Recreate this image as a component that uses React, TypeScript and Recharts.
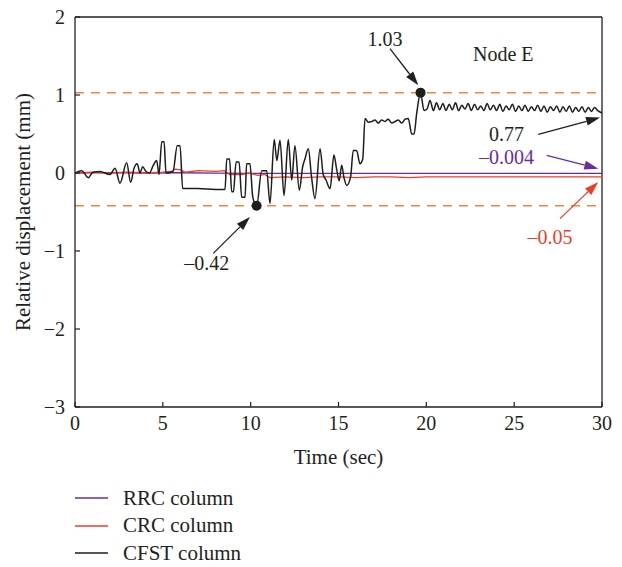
import { Line, LineChart, ReferenceDot, ReferenceLine, XAxis, YAxis } from 'recharts';

// Serif look of the original figure; Liberation Serif has Times metrics.
const FONT = '"Liberation Serif", "Times New Roman", serif';
const INK = '#231f20';
const RRC_COLOR = '#6a2c9e';
const CRC_COLOR = '#ee3e26';
const CFST_COLOR = '#1d1d1b';
const BOUND_COLOR = '#f5882c';

const TIME_TICKS = [0, 5, 10, 15, 20, 25, 30];
const DISP_TICKS = [-3, -2, -1, 0, 1, 2];

// RRC column, nearly flat at -0.004 mm
const rrcTime = [0, 2, 4, 6, 8, 10, 12, 15, 20, 25, 30];
const rrcValue = [0, 0.005, 0, 0.003, -0.002, -0.005, -0.004, -0.006, -0.004, -0.004, -0.004];

// CRC column, settles at -0.05 mm
const crcTime = [0, 1, 2, 3, 4, 5, 5.5, 5.7, 6.0, 6.3, 7.0, 8.0, 8.5, 8.8, 9.5, 9.9, 10.4, 10.8, 11.1, 12, 13, 14, 15, 16, 17, 18, 19, 20, 22, 24, 26, 28, 30];
const crcValue = [0, 0.01, 0, 0.01, 0, 0.01, 0.02, 0.05, 0.04, 0.01, 0.03, 0.02, 0.03, -0.02, -0.02, 0.0, -0.03, -0.02, -0.06, -0.05, -0.06, -0.05, -0.05, -0.06, -0.05, -0.05, -0.06, -0.05, -0.05, -0.05, -0.05, -0.05, -0.05];

// CFST column
const cfstTime = [
  0, 0.38, 0.76, 1.02, 1.42, 1.99, 2.28, 2.56, 2.94, 3.17, 3.36, 3.54, 3.7, 3.85, 4.04, 4.23, 4.46, 4.65, 4.78, 4.94,
  5.07, 5.18, 5.58, 5.82, 5.98, 6.13, 7.0, 8.0, 8.54, 8.64, 8.8, 8.92, 9.02, 9.17, 9.34, 9.49, 9.68, 9.77, 9.96, 10.12,
  10.34, 10.63, 10.91, 11.1, 11.34, 11.49, 11.67, 11.9, 12.14, 12.34, 12.52, 12.77, 12.96, 13.09, 13.28, 13.47, 13.66,
  13.95, 14.13, 14.29, 14.52, 14.74, 14.9, 15.04, 15.18, 15.31, 15.47, 15.69, 15.84, 16.03, 16.22, 16.38, 16.51, 16.7,
  16.89, 17.08, 17.26, 17.46, 17.65, 17.83, 18.03, 18.22, 18.4, 18.6, 18.79, 18.97, 19.17, 19.3, 19.45, 19.67, 19.87,
  20.04, 20.21, 20.4, 20.58, 20.76, 20.94, 21.12, 21.3, 21.48, 21.66, 21.84, 22.02, 22.2, 22.38, 22.56, 22.74, 22.92,
  23.1, 23.28, 23.46, 23.64, 23.82, 24.0, 24.18, 24.36, 24.54, 24.72, 24.9, 25.08, 25.26, 25.44, 25.62, 25.8, 25.98,
  26.16, 26.34, 26.52, 26.7, 26.88, 27.06, 27.24, 27.42, 27.6, 27.78, 27.96, 28.14, 28.32, 28.5, 28.68, 28.86, 29.04,
  29.22, 29.4, 29.58, 29.76, 30,
];
const cfstValue = [
  0, 0.03, -0.06, 0.01, 0.02, -0.02, 0.06, -0.13, 0.13, -0.12, 0.06, 0.12, 0.0, 0.08, 0.02, 0.0, 0.1, 0.16, -0.02, 0.4,
  0.4, 0.0, 0.02, 0.35, 0.35, -0.2, -0.2, -0.21, -0.21, 0.18, 0.18, -0.24, -0.24, 0.14, 0.14, -0.31, -0.31, 0.12, 0.12,
  -0.31, -0.42, 0.03, 0.03, -0.39, 0.43, 0.16, 0.42, -0.29, 0.43, -0.09, 0.35, -0.22, 0.08, 0.18, 0.31, -0.06, -0.33,
  0.31, -0.02, -0.09, -0.2, 0.23, 0.04, -0.1, 0.1, -0.06, -0.16, -0.05, 0.29, 0.29, 0.12, 0.18, 0.7, 0.65,
  0.66, 0.68, 0.64, 0.68, 0.66, 0.69, 0.64, 0.66, 0.68, 0.64, 0.69, 0.7, 0.5, 0.5, 0.76, 1.03, 0.8,
  0.82, 0.93, 0.8, 0.9, 0.81, 0.89, 0.8, 0.88, 0.81, 0.9, 0.8, 0.87, 0.82, 0.89, 0.8, 0.88, 0.81,
  0.86, 0.8, 0.89, 0.81, 0.87, 0.8, 0.88, 0.79, 0.86, 0.81, 0.88, 0.79, 0.86, 0.8, 0.87, 0.79, 0.85,
  0.8, 0.87, 0.79, 0.86, 0.78, 0.85, 0.8, 0.86, 0.78, 0.85, 0.79, 0.86, 0.78, 0.84, 0.79, 0.85, 0.78,
  0.84, 0.79, 0.84, 0.8, 0.77,
];

// maximum / minimum envelope
const PEAK = { t: 19.67, v: 1.03 };
const TROUGH = { t: 10.34, v: -0.42 };

// text callouts (centre of text, data units)
const noteText = ['1.03', 'Node E', '0.77', '\u20130.004', '\u20130.05', '\u20130.42'];
const noteTime = [17.65, 24.38, 24.57, 24.57, 27.04, 7.5];
const noteValue = [1.72, 1.53, 0.505, 0.205, -0.82, -1.16];
const noteColor = [INK, INK, INK, RRC_COLOR, CRC_COLOR, INK];

// arrows: [tail time, tail value, tip time, tip value]
const arrowSegs = [
  [17.93, 1.595, 19.54, 1.124],
  [26.37, 0.496, 29.89, 0.71],
  [26.85, 0.227, 29.79, 0.056],
  [27.61, -0.585, 29.79, -0.115],
  [7.87, -1.03, 9.96, -0.564],
];
const arrowColor = [INK, INK, RRC_COLOR, CRC_COLOR, INK];

const seriesNames = ['RRC column', 'CRC column', 'CFST column'];
const seriesColors = [RRC_COLOR, CRC_COLOR, CFST_COLOR];

const toPoints = (ts: number[], vs: number[]) => ts.map((t, i) => ({ t, v: vs[i] }));

const rrcData = toPoints(rrcTime, rrcValue);
const crcData = toPoints(crcTime, crcValue);
const cfstData = toPoints(cfstTime, cfstValue);

const fmt = (n: number) => (n < 0 ? '\u2212' + Math.abs(n) : String(n));

function ArrowShape(props: any) {
  const { x1, y1, x2, y2, stroke } = props;
  const ang = Math.atan2(y2 - y1, x2 - x1);
  const len = 14;
  const half = 4.5;
  const bx = x2 - len * Math.cos(ang);
  const by = y2 - len * Math.sin(ang);
  const px = -Math.sin(ang) * half;
  const py = Math.cos(ang) * half;
  return (
    <g>
      <line x1={x1} y1={y1} x2={bx} y2={by} stroke={stroke} strokeWidth={1.3} />
      <polygon points={`${x2},${y2} ${bx + px},${by + py} ${bx - px},${by - py}`} fill={stroke} />
    </g>
  );
}

function NoteShape(props: any) {
  const { cx, cy, text, color } = props;
  return (
    <text x={cx} y={cy} textAnchor="middle" dominantBaseline="central" fill={color} fontSize={20} fontFamily={FONT}>
      {text}
    </text>
  );
}

const tickStyle = { fill: INK, fontSize: 20, fontFamily: FONT };

export default function App() {
  return (
    <div style={{ position: 'relative', width: 622, height: 567, background: '#fff' }}>
      <style>{'body{margin:0}'}</style>
      <LineChart width={622} height={480} margin={{ top: 17, right: 20, bottom: 0, left: 0 }}>
        <XAxis
          dataKey="t"
          type="number"
          domain={[0, 30]}
          ticks={TIME_TICKS}
          allowDataOverflow
          height={73}
          tickSize={-5}
          tickMargin={14}
          tick={tickStyle}
          axisLine={{ stroke: INK, strokeWidth: 1.3 }}
          tickLine={{ stroke: INK, strokeWidth: 1.2 }}
          label={{ value: 'Time (sec)', position: 'insideBottom', offset: 16, fill: INK, fontSize: 21, fontFamily: FONT }}
        />
        <YAxis
          type="number"
          domain={[-3, 2]}
          ticks={DISP_TICKS}
          allowDataOverflow
          width={75}
          tickSize={-5}
          tickMargin={15}
          tick={tickStyle}
          tickFormatter={fmt}
          axisLine={{ stroke: INK, strokeWidth: 1.3 }}
          tickLine={{ stroke: INK, strokeWidth: 1.2 }}
          label={{
            value: 'Relative displacement (mm)',
            angle: -90,
            position: 'insideLeft',
            offset: 23,
            fill: INK,
            fontSize: 21,
            fontFamily: FONT,
            style: { textAnchor: 'middle' },
          }}
        />
        {/* frame */}
        <ReferenceLine y={2} stroke={INK} strokeWidth={1.3} />
        <ReferenceLine x={30} stroke={INK} strokeWidth={1.3} />
        {/* envelope bounds */}
        <ReferenceLine y={PEAK.v} stroke={BOUND_COLOR} strokeWidth={1.5} strokeDasharray="9 7" />
        <ReferenceLine y={TROUGH.v} stroke={BOUND_COLOR} strokeWidth={1.5} strokeDasharray="9 7" />

        <Line data={rrcData} dataKey="v" type="linear" stroke={RRC_COLOR} strokeWidth={1.3} dot={false} isAnimationActive={false} />
        <Line data={crcData} dataKey="v" type="linear" stroke={CRC_COLOR} strokeWidth={1.3} dot={false} isAnimationActive={false} />
        <Line data={cfstData} dataKey="v" type="monotone" stroke={CFST_COLOR} strokeWidth={1.5} dot={false} isAnimationActive={false} />

        <ReferenceDot x={PEAK.t} y={PEAK.v} r={5} fill={CFST_COLOR} stroke="none" />
        <ReferenceDot x={TROUGH.t} y={TROUGH.v} r={5} fill={CFST_COLOR} stroke="none" />

        {arrowSegs.map((s, i) => (
          <ReferenceLine
            key={'arrow' + i}
            segment={[{ x: s[0], y: s[1] }, { x: s[2], y: s[3] }]}
            stroke={arrowColor[i]}
            shape={ArrowShape}
          />
        ))}
        {noteText.map((txt, i) => (
          <ReferenceDot
            key={'note' + i}
            x={noteTime[i]}
            y={noteValue[i]}
            r={0}
            shape={(p: any) => <NoteShape {...p} text={txt} color={noteColor[i]} />}
          />
        ))}
      </LineChart>
      {seriesNames.map((name, i) => (
        <div
          key={name}
          style={{
            position: 'absolute',
            left: 75,
            top: 486 + i * 27.5,
            height: 24,
            display: 'flex',
            alignItems: 'center',
            fontFamily: FONT,
            fontSize: 21,
            color: INK,
          }}
        >
          <svg width={33} height={4}>
            <line x1={0} y1={2} x2={33} y2={2} stroke={seriesColors[i]} strokeWidth={1.4} />
          </svg>
          <span style={{ marginLeft: 15 }}>{name}</span>
        </div>
      ))}
    </div>
  );
}
